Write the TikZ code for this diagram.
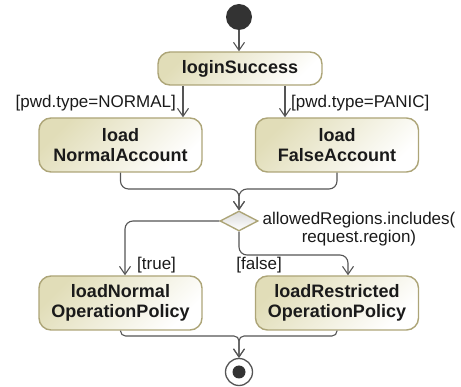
\documentclass[tikz,border=0pt]{standalone}
\usepackage{fontspec}
\setmainfont{Liberation Sans}
\usetikzlibrary{arrows.meta,shapes.geometric}
\definecolor{actfill}{HTML}{E1DDB8}
\definecolor{actline}{HTML}{ADA578}
\definecolor{flowline}{HTML}{555555}
\definecolor{inkc}{HTML}{1A1A1A}
\definecolor{startc}{HTML}{333333}
\tikzset{
  action/.style={rectangle, rounded corners=12pt, draw=actline, line width=1.4pt,
    top color=actfill, bottom color=white, shading angle=45,
    minimum width=163pt, minimum height=54pt, align=center, inner sep=0pt,
    font=\fontsize{18}{19.5}\selectfont\bfseries, text=inkc},
  flow/.style={draw=flowline, line width=1.1pt,
    -{Straight Barb[length=8pt,width=11pt]}, rounded corners=8pt},
  guard/.style={font=\fontsize{17}{18}\selectfont, text=inkc, inner sep=0pt},
}
\begin{document}
\begin{tikzpicture}[x=1pt,y=-1pt]
\useasboundingbox (0,0) rectangle (461,387);

% initial and final nodes
\node[circle, fill=startc, minimum size=26pt, inner sep=0pt] (init) at (239,17) {};
\node[circle, draw=flowline, line width=1.3pt, fill=white, minimum size=27pt, inner sep=0pt] (final) at (239,372) {};
\node[circle, fill=startc, minimum size=13pt, inner sep=0pt] (finaldot) at (final) {};

% actions
\node[action, minimum width=164pt, minimum height=33pt] (login) at (240,68.5) {loginSuccess};
\node[action] (nacc) at (120.5,145) {load\\NormalAccount};
\node[action] (facc) at (337,145) {load\\FalseAccount};
\node[action] (pol1) at (120.5,303) {loadNormal\\OperationPolicy};
\node[action] (pol2) at (337,303) {loadRestricted\\OperationPolicy};

% decision
\node[diamond, draw=actline, line width=1.4pt, top color=black!14, bottom color=white,
  minimum width=38pt, minimum height=20pt, inner sep=0pt] (dec) at (239,221) {};

% helper coordinates for branch lines
\coordinate (xl) at (183,0);
\coordinate (xr) at (285,0);
\coordinate (join1) at (239,189);
\coordinate (xt) at (125,0);
\coordinate (xf) at (348,255);
\coordinate (split) at (239,255);
\coordinate (join2) at (239,336);

% flows
\draw[flow] (init.south) -- (init.south |- login.north);
\draw[flow] (login.south -| xl) -- (nacc.north -| xl);
\draw[flow] (login.south -| xr) -- (facc.north -| xr);
\draw[flow] (nacc.south) |- (join1) -- (dec.north);
\draw[flow] (facc.south) |- (join1) -- (dec.north);
\draw[flow] (dec.west) -| (pol1.north -| xt);
\draw[flow] (dec.south) -- (split) -| (pol2.north -| xf);
\draw[flow, rounded corners=5pt] (pol1.south) |- (join2) -- (final.north);
\draw[flow, rounded corners=5pt] (pol2.south) |- (join2) -- (final.north);

% guards
\node[guard, anchor=east] (g1) at (176,103) {[pwd.type=NORMAL]};
\node[guard, anchor=west] (g2) at (291,103) {[pwd.type=PANIC]};
\node[guard, align=center] (g3) at (359,229) {allowedRegions.includes(\\request.region)};
\node[guard, anchor=west] (g4) at (137,265) {[true]};
\node[guard, anchor=east] (g5) at (282,265) {[false]};
\end{tikzpicture}
\end{document}
